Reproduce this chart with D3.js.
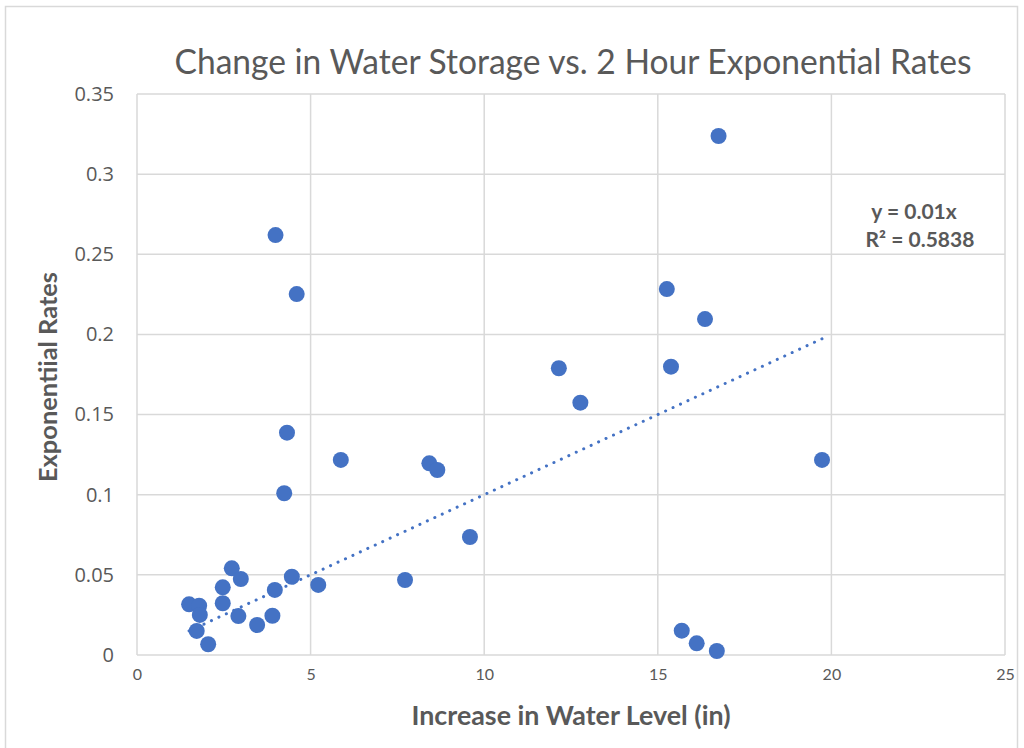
<!DOCTYPE html>
<html>
<head>
<meta charset="utf-8">
<script src="https://cdn.jsdelivr.net/npm/d3@7"></script>
<style>
  html, body { margin: 0; padding: 0; background: #ffffff; }
  svg { display: block; }
</style>
</head>
<body>
<svg id="chart" width="1024" height="748"></svg>
<script>
// Increase in water level (in) for each observation
const waterLevel = [
  1.50, 1.79, 1.81, 1.72, 2.05, 2.47, 2.47, 2.73, 2.99, 2.92,
  3.46, 3.90, 3.97, 4.46, 5.22,
  3.99, 4.60, 4.32, 5.87, 4.24,
  8.42, 8.65, 9.59, 7.72,
  16.75, 15.26, 16.36, 15.38, 12.15, 12.77,
  15.69, 16.12, 16.70,
  19.73
];
// Matching 2-hour exponential rates
const expRates = [
  0.0316, 0.0308, 0.0250, 0.0150, 0.0067, 0.0422, 0.0323, 0.0541, 0.0474, 0.0243,
  0.0187, 0.0245, 0.0406, 0.0488, 0.0437,
  0.2620, 0.2252, 0.1387, 0.1217, 0.1009,
  0.1196, 0.1154, 0.0736, 0.0468,
  0.3238, 0.2283, 0.2096, 0.1799, 0.1789, 0.1574,
  0.0152, 0.0073, 0.0025,
  0.1217
];
const xTicks = [0, 5, 10, 15, 20, 25];
const yTicks = [0, 0.05, 0.1, 0.15, 0.2, 0.25, 0.3, 0.35];
const trendSlope = 0.01;      // linear fit through the origin
const trendR2 = 0.5838;

const svg = d3.select("#chart");
const grey = "#595959";
const gridColor = "#d9d9d9";
const blue = "#4472C4";

// outer chart frame
svg.append("rect")
  .attr("x", 5.5).attr("y", 6.5)
  .attr("width", 1012).attr("height", 760)
  .attr("fill", "#fff")
  .attr("stroke", gridColor).attr("stroke-width", 1.5);

const plot = { left: 137, right: 1005, top: 94, bottom: 655 };
const x = d3.scaleLinear().domain([0, 25]).range([plot.left, plot.right]);
const y = d3.scaleLinear().domain([0, 0.35]).range([plot.bottom, plot.top]);

// gridlines
svg.append("g")
  .selectAll("line.h").data(yTicks).join("line")
  .attr("x1", plot.left).attr("x2", plot.right)
  .attr("y1", d => y(d)).attr("y2", d => y(d))
  .attr("stroke", gridColor).attr("stroke-width", 1.5);
svg.append("g")
  .selectAll("line.v").data(xTicks).join("line")
  .attr("x1", d => x(d)).attr("x2", d => x(d))
  .attr("y1", plot.top).attr("y2", plot.bottom)
  .attr("stroke", gridColor).attr("stroke-width", 1.5);

// x axis tick labels
const xAxis = d3.axisBottom(x).tickValues(xTicks).tickSize(0).tickPadding(14).tickFormat(d3.format("d"));
svg.append("g")
  .attr("transform", `translate(0,${plot.bottom})`)
  .call(xAxis)
  .call(g => g.select(".domain").remove())
  .selectAll("text")
  .attr("fill", grey)
  .style("font-family", "Lato, sans-serif")
  .style("font-size", "16px");

// y axis tick labels
const yAxis = d3.axisLeft(y).tickValues(yTicks).tickSize(0).tickPadding(23)
  .tickFormat(d => d === 0 ? "0" : d3.format("")(+d.toFixed(2)));
svg.append("g")
  .attr("transform", `translate(${plot.left},0)`)
  .call(yAxis)
  .call(g => g.select(".domain").remove())
  .selectAll("text")
  .attr("fill", grey)
  .style("font-family", "'Open Sans', sans-serif")
  .style("font-size", "20px");

// dotted linear trendline over the data range
const xr = d3.extent(waterLevel);
svg.append("line")
  .attr("x1", x(xr[0])).attr("y1", y(trendSlope * xr[0]))
  .attr("x2", x(xr[1])).attr("y2", y(trendSlope * xr[1]))
  .attr("stroke", blue).attr("stroke-width", 3)
  .attr("stroke-linecap", "round")
  .attr("stroke-dasharray", "0.1 8.1");

// scatter points
svg.append("g")
  .selectAll("circle").data(waterLevel).join("circle")
  .attr("cx", d => x(d))
  .attr("cy", (d, i) => y(expRates[i]))
  .attr("r", 8)
  .attr("fill", blue);

// title
svg.append("text")
  .attr("x", 573).attr("y", 74)
  .attr("text-anchor", "middle")
  .attr("fill", grey)
  .attr("textLength", 797)
  .attr("lengthAdjust", "spacingAndGlyphs")
  .style("font-family", "Lato, sans-serif")
  .style("font-size", "34px")
  .text("Change in Water Storage vs. 2 Hour Exponential Rates");

// axis titles
svg.append("text")
  .attr("x", 571).attr("y", 725)
  .attr("text-anchor", "middle")
  .attr("fill", grey)
  .attr("textLength", 319)
  .attr("lengthAdjust", "spacingAndGlyphs")
  .style("font-family", "Lato, sans-serif")
  .style("font-weight", "bold")
  .style("font-size", "26px")
  .text("Increase in Water Level (in)");

svg.append("text")
  .attr("transform", "translate(57,377) rotate(-90)")
  .attr("text-anchor", "middle")
  .attr("fill", grey)
  .attr("textLength", 210)
  .attr("lengthAdjust", "spacingAndGlyphs")
  .style("font-family", "Lato, sans-serif")
  .style("font-weight", "bold")
  .style("font-size", "25px")
  .text("Exponentiial Rates");

// trendline equation
const eq = svg.append("text")
  .attr("text-anchor", "middle")
  .attr("fill", grey)
  .style("font-family", "Lato, sans-serif")
  .style("font-weight", "bold")
  .style("font-size", "21px");
eq.append("tspan").attr("x", 914).attr("y", 219).text(`y = ${trendSlope}x`);
eq.append("tspan").attr("x", 920).attr("y", 247).text(`R² = ${trendR2}`);
</script>
</body>
</html>
